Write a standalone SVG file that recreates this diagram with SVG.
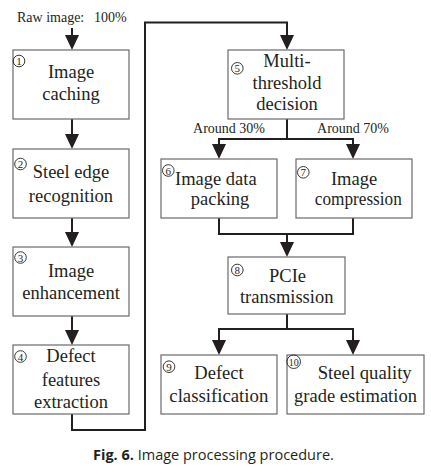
<svg xmlns="http://www.w3.org/2000/svg" width="431" height="474" viewBox="0 0 431 474">
<style>
.box{fill:#fff;stroke:#6a6a6a;stroke-width:1.2}
.lbl{font-family:"Liberation Serif","Times New Roman",serif;font-size:18.5px;fill:#231f20;text-anchor:middle}
.sm{font-family:"Liberation Serif","Times New Roman",serif;font-size:14px;fill:#231f20;text-anchor:middle}
.num{font-family:"Liberation Serif","Times New Roman",serif;font-size:11px;fill:#231f20;text-anchor:middle}
.circ{fill:none;stroke:#231f20;stroke-width:0.9}
.ln{fill:none;stroke:#231f20;stroke-width:2}
.cap{font-family:"Open Sans","Noto Sans",sans-serif;font-size:14.5px;fill:#231f20}
</style>
<defs>
<marker id="ah" markerUnits="userSpaceOnUse" markerWidth="16" markerHeight="16" refX="0" refY="7" orient="auto">
<path d="M0,0 L15,7 L0,14 z" fill="#231f20"/>
</marker>
</defs>
<g id="connectors">
<line class="ln" x1="72" y1="28" x2="72" y2="35" marker-end="url(#ah)"/>
<line class="ln" x1="72" y1="119" x2="72" y2="134" marker-end="url(#ah)"/>
<line class="ln" x1="72" y1="218" x2="72" y2="232" marker-end="url(#ah)"/>
<line class="ln" x1="72" y1="316" x2="72" y2="330" marker-end="url(#ah)"/>
<polyline class="ln" points="72,414 72,430 145,430 145,22.5 287,22.5 287,35" marker-end="url(#ah)"/>
<line class="ln" x1="287" y1="119" x2="287" y2="139"/>
<polyline class="ln" points="219,144 219,139 353,139 353,144"/>
<line class="ln" x1="219" y1="139" x2="219" y2="144" marker-end="url(#ah)"/>
<line class="ln" x1="353" y1="139" x2="353" y2="144" marker-end="url(#ah)"/>
<polyline class="ln" points="219,218 219,234 353,234 353,218"/>
<line class="ln" x1="287" y1="234" x2="287" y2="242" marker-end="url(#ah)"/>
<line class="ln" x1="287" y1="314" x2="287" y2="329"/>
<polyline class="ln" points="219,340 219,329 353,329 353,340"/>
<line class="ln" x1="219" y1="329" x2="219" y2="340" marker-end="url(#ah)"/>
<line class="ln" x1="353" y1="329" x2="353" y2="340" marker-end="url(#ah)"/>
</g>
<g id="raw-label">
<text class="sm" style="text-anchor:start" y="22"><tspan x="17">Raw image:</tspan><tspan x="94">100%</tspan></text>
</g>
<g id="node1">
<rect class="box" x="13" y="50" width="116" height="69"/>
<circle class="circ" cx="19" cy="61" r="5.8"/><text class="num" x="19" y="65">1</text>
<text class="lbl" x="71" y="78">Image</text>
<text class="lbl" x="71" y="99.5">caching</text>
</g>
<g id="node2">
<rect class="box" x="13" y="149" width="116" height="69"/>
<circle class="circ" cx="20.5" cy="164" r="5.8"/><text class="num" x="20.5" y="168">2</text>
<text class="lbl" x="71" y="178">Steel edge</text>
<text class="lbl" x="71" y="201.5">recognition</text>
</g>
<g id="node3">
<rect class="box" x="13" y="247" width="116" height="69"/>
<circle class="circ" cx="20.5" cy="257.5" r="5.8"/><text class="num" x="20.5" y="261.5">3</text>
<text class="lbl" x="71" y="276.5">Image</text>
<text class="lbl" x="71" y="298.5">enhancement</text>
</g>
<g id="node4">
<rect class="box" x="13" y="345" width="116" height="69"/>
<circle class="circ" cx="20.5" cy="356.5" r="5.8"/><text class="num" x="20.5" y="360.5">4</text>
<text class="lbl" x="71" y="362">Defect</text>
<text class="lbl" x="71" y="385.5">features</text>
<text class="lbl" x="71" y="407.5">extraction</text>
</g>
<g id="node5">
<rect class="box" x="228" y="50" width="116" height="69"/>
<circle class="circ" cx="237.3" cy="68.3" r="5.8"/><text class="num" x="237.3" y="72.3">5</text>
<text class="lbl" x="287" y="66.7">Multi-</text>
<text class="lbl" x="287" y="88.5">threshold</text>
<text class="lbl" x="287" y="110">decision</text>
</g>
<g id="branch-labels">
<text class="sm" x="229" y="133">Around 30%</text>
<text class="sm" x="353" y="133">Around 70%</text>
</g>
<g id="node6">
<rect class="box" x="161" y="159" width="116" height="59"/>
<circle class="circ" cx="168.3" cy="170.5" r="5.8"/><text class="num" x="168.3" y="174.5">6</text>
<text class="lbl" style="text-anchor:start" x="175" y="185">Image data</text>
<text class="lbl" x="220" y="205">packing</text>
</g>
<g id="node7">
<rect class="box" x="296" y="159" width="116" height="59"/>
<circle class="circ" cx="303.3" cy="172.3" r="5.8"/><text class="num" x="303.3" y="176.3">7</text>
<text class="lbl" x="354" y="185">Image</text>
<text class="lbl" x="358.3" y="205" textLength="87" lengthAdjust="spacingAndGlyphs">compression</text>
</g>
<g id="node8">
<rect class="box" x="228" y="257" width="117" height="57"/>
<circle class="circ" cx="237.3" cy="270" r="5.8"/><text class="num" x="237.3" y="274">8</text>
<text class="lbl" x="287.5" y="281.7">PCIe</text>
<text class="lbl" x="286.7" y="302.7">transmission</text>
</g>
<g id="node9">
<rect class="box" x="161" y="355" width="116" height="59"/>
<circle class="circ" cx="169" cy="366.7" r="5.8"/><text class="num" x="169" y="370.7">9</text>
<text class="lbl" x="219" y="379.3">Defect</text>
<text class="lbl" x="218.8" y="401.7" textLength="99" lengthAdjust="spacingAndGlyphs">classification</text>
</g>
<g id="node10">
<rect class="box" x="287" y="355" width="137" height="59"/>
<circle class="circ" cx="293.7" cy="361.7" r="6.8"/><text class="num" x="293.7" y="365.7" style="font-size:10px">10</text>
<text class="lbl" x="364.7" y="379.3" textLength="94" lengthAdjust="spacingAndGlyphs">Steel quality</text>
<text class="lbl" x="355.5" y="401.7">grade estimation</text>
</g>
<g id="caption">
<text class="cap" x="93" y="460"><tspan font-weight="bold">Fig. 6.</tspan> Image processing procedure.</text>
</g>
</svg>
